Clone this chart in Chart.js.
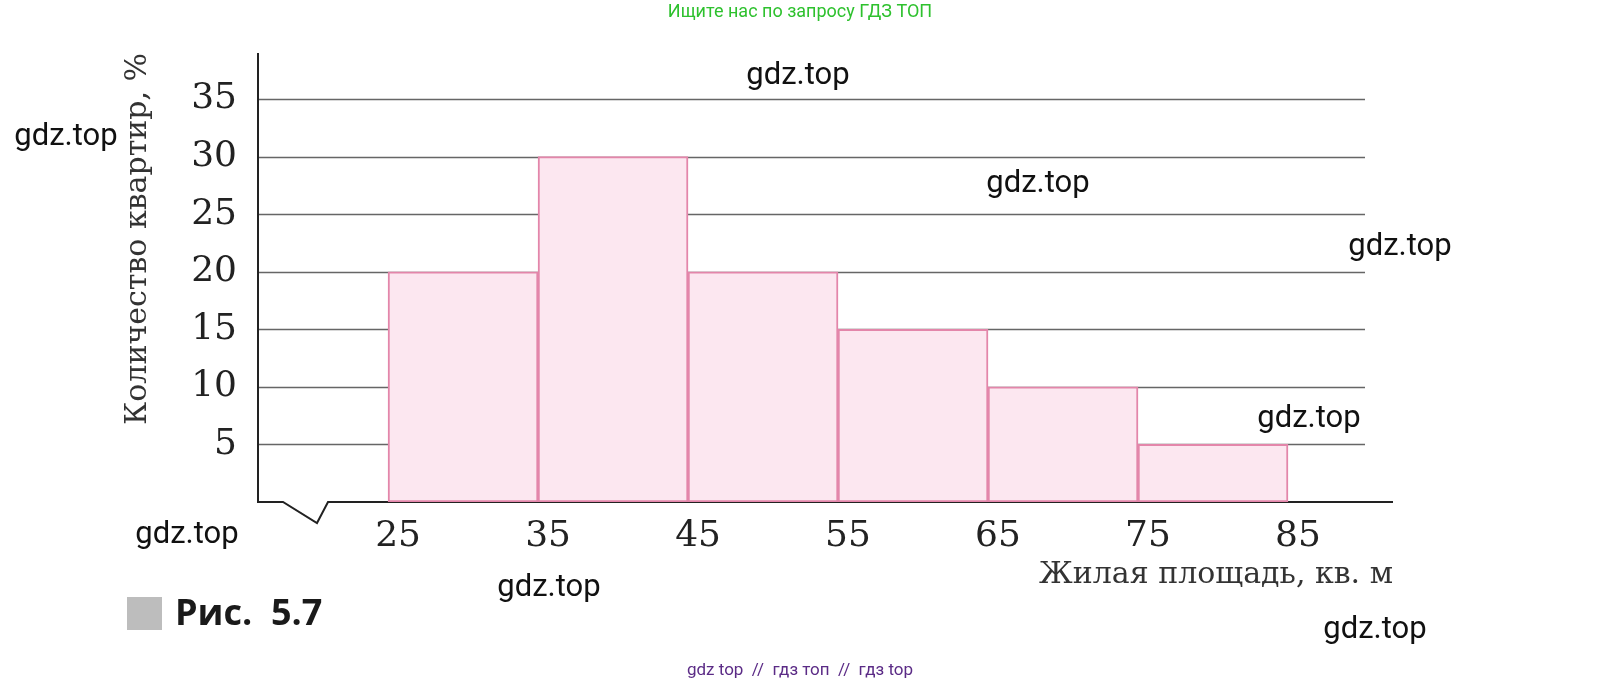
<!DOCTYPE html>
<html>
<head>
<meta charset="utf-8">
<script src="https://cdn.jsdelivr.net/npm/chart.js@4.4.0/dist/chart.umd.min.js"></script>
<style>
  html, body { margin: 0; padding: 0; background: #fff; }
  canvas { display: block; }
</style>
</head>
<body>
<canvas id="hist" width="1600" height="685"></canvas>
<script>
// histogram data
const binEdges = [25, 35, 45, 55, 65, 75, 85];
const shares = [20, 30, 20, 15, 10, 5];
const yTicks = [5, 10, 15, 20, 25, 30, 35];
const yTitle = 'Количество квартир, %';
const xTitle = 'Жилая площадь, кв. м';
const figLabel = 'Рис.  5.7';

const serif = 'DejaVu Serif';
const ink = '#222';

// grid, axes with the break, and the page texts
const paper = {
    id: 'paper',
    beforeDatasetsDraw(chart) {
        const { ctx, chartArea: a, scales: { y } } = chart;
        ctx.save();
        ctx.strokeStyle = '#666';
        ctx.lineWidth = 1.4;
        yTicks.forEach(v => {
            const py = Math.round(y.getPixelForValue(v)) + 0.5;
            ctx.beginPath();
            ctx.moveTo(a.left, py);
            ctx.lineTo(a.right - 28, py);
            ctx.stroke();
        });
        ctx.strokeStyle = ink;
        ctx.lineWidth = 2;
        ctx.beginPath();
        ctx.moveTo(a.left, a.top);
        ctx.lineTo(a.left, a.bottom);
        ctx.lineTo(a.left + 25, a.bottom);
        ctx.lineTo(a.left + 59, a.bottom + 21);
        ctx.lineTo(a.left + 70, a.bottom);
        ctx.lineTo(a.right, a.bottom);
        ctx.stroke();
        ctx.restore();
    },
    afterDraw(chart) {
        const ctx = chart.ctx;
        ctx.save();
        ctx.textAlign = 'center';
        ctx.textBaseline = 'middle';

        ctx.font = '18px Roboto';
        ctx.fillStyle = '#2ec12e';
        ctx.fillText('Ищите нас по запросу ГДЗ ТОП', 800, 12);
        ctx.font = '17px Roboto';
        ctx.fillStyle = '#5b2b86';
        ctx.fillText('gdz top  //  гдз топ  //  гдз top', 800, 671);

        ctx.font = '31px Roboto';
        ctx.fillStyle = '#111';
        [[798, 76], [66, 137], [1038, 184], [1400, 247], [1309, 419], [187, 535], [549, 588], [1375, 630]]
            .forEach(([px, py]) => ctx.fillText('gdz.top', px, py));

        ctx.fillStyle = '#bdbdbd';
        ctx.fillRect(127, 597, 35, 33);
        ctx.textAlign = 'left';
        ctx.font = 'bold 36px "Open Sans"';
        ctx.fillStyle = '#1a1a1a';
        ctx.fillText(figLabel, 175, 615);
        ctx.restore();
    }
};

new Chart(document.getElementById('hist'), {
    type: 'bar',
    data: {
        datasets: [{
            data: shares.map((v, i) => ({ x: (binEdges[i] + binEdges[i + 1]) / 2, y: v })),
            backgroundColor: '#fce7f0',
            borderColor: '#e386aa',
            borderWidth: 2,
            borderSkipped: false,
            barPercentage: 1,
            categoryPercentage: 1
        }]
    },
    options: {
        responsive: false,
        animation: false,
        layout: { padding: { left: 110, top: 53, right: 207, bottom: 85 } },
        plugins: { legend: { display: false }, tooltip: { enabled: false } },
        scales: {
            x: {
                type: 'linear', min: 16.33, max: 92, offset: false,
                afterBuildTicks: s => { s.ticks = binEdges.map(v => ({ value: v })); },
                afterFit: s => { s.height = 98; },
                grid: { display: false, drawTicks: false, offset: false },
                border: { display: false },
                ticks: { padding: 13, labelOffset: 10, color: ink, font: { family: serif, size: 36 }, callback: v => v },
                title: { display: true, text: xTitle, align: 'end', color: '#333', font: { family: serif, size: 30 }, padding: { top: 0, bottom: 7 } }
            },
            y: {
                min: 0, max: 39,
                afterBuildTicks: s => { s.ticks = yTicks.map(v => ({ value: v })); },
                afterFit: s => { s.width = 148; },
                grid: { display: false, drawTicks: false },
                border: { display: false },
                ticks: { padding: 21, color: ink, font: { family: serif, size: 36 } },
                title: { display: true, text: yTitle, align: 'end', color: '#333', font: { family: serif, size: 30 }, padding: { top: 10, bottom: 0 } }
            }
        }
    },
    plugins: [paper]
});
</script>
</body>
</html>
